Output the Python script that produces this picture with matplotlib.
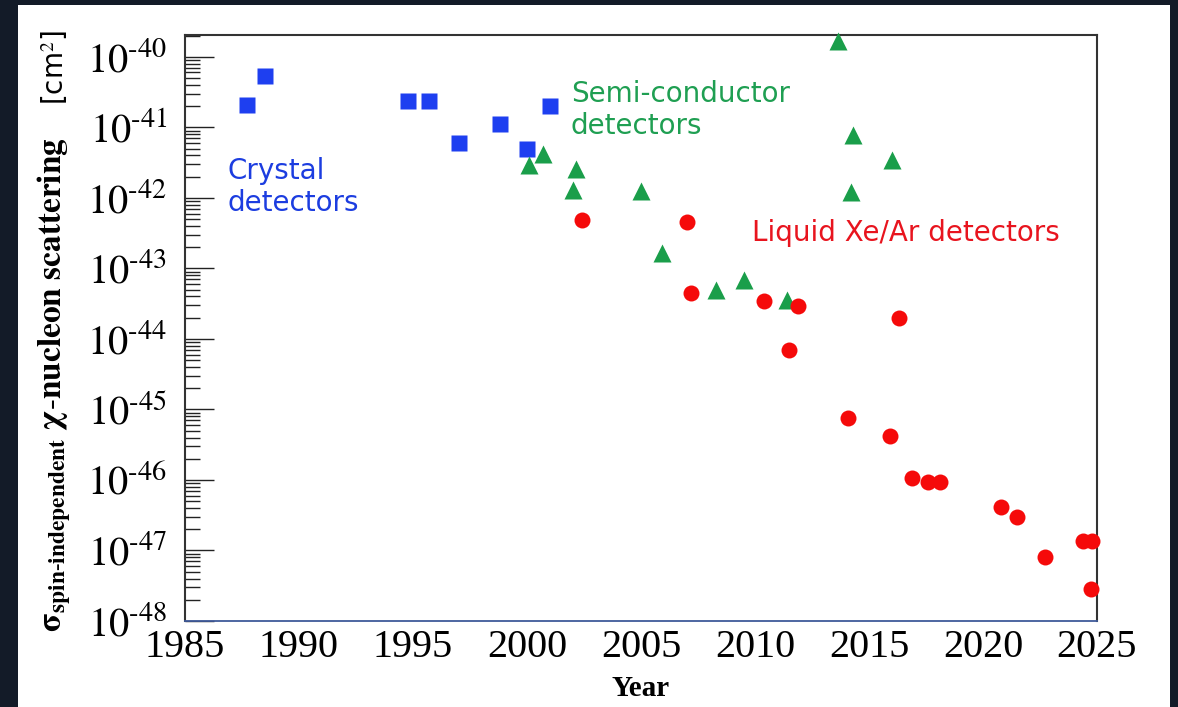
import numpy as np
import matplotlib
matplotlib.use("Agg")
import matplotlib.pyplot as plt
from matplotlib.patches import Rectangle
from matplotlib.ticker import LogLocator, FuncFormatter, NullFormatter, FixedLocator

# cross-section limits per experiment, cm^2
crystal_year = [1987.7, 1988.5, 1994.8, 1995.7, 1997.0, 1998.8, 2000.0, 2001.0]
crystal_xs = [2.1e-41, 5.4e-41, 2.4e-41, 2.4e-41, 6.0e-42, 1.1e-41, 5.0e-42, 2.0e-41]

semi_year = [2000.1, 2000.7, 2002.0, 2002.15, 2005.0, 2005.9, 2008.3, 2009.5,
             2011.4, 2013.65, 2014.3, 2014.2, 2016.0]
semi_xs = [2.9e-42, 4.2e-42, 1.3e-42, 2.6e-42, 1.26e-42, 1.66e-43, 5.0e-44, 6.9e-44,
           3.6e-44, 1.7e-40, 7.8e-42, 1.23e-42, 3.5e-42]

liquid_year = [2002.4, 2007.0, 2007.2, 2010.4, 2011.5, 2011.9, 2014.1, 2015.9,
               2016.3, 2016.9, 2017.6, 2018.1, 2020.8, 2021.5, 2022.7, 2024.4,
               2024.8, 2024.75]
liquid_xs = [4.8e-43, 4.5e-43, 4.5e-44, 3.4e-44, 6.9e-45, 2.9e-44, 7.6e-46, 4.2e-46,
             2.0e-44, 1.07e-46, 9.5e-47, 9.5e-47, 4.1e-47, 3.0e-47, 8.0e-48, 1.38e-47,
             1.35e-47, 2.8e-48]

year_ticks = [1985, 1990, 1995, 2000, 2005, 2010, 2015, 2020, 2025]

BLUE = "#1e3ff0"
GREEN = "#1a9e4a"
RED = "#f50a0a"

plt.rcParams["mathtext.fontset"] = "stix"
plt.rcParams["font.family"] = ["Liberation Serif", "DejaVu Serif"]

W, H = 1178, 707
fig = plt.figure(figsize=(W / 100, H / 100), dpi=100, facecolor="#131b28")
# white card behind the plot
fig.patches.append(Rectangle((18 / W, 0), (1170 - 18) / W, (H - 5) / H,
                             transform=fig.transFigure, facecolor="white",
                             edgecolor="none", zorder=-5))

ax = fig.add_axes([185 / W, 86 / H, 912 / W, 586 / H])
ax.set_facecolor("white")

ax.plot(crystal_year, crystal_xs, "s", color=BLUE, ms=11, mec="none", zorder=5, clip_on=False)
ax.plot(semi_year, semi_xs, "^", color=GREEN, ms=12.5, mec="none", zorder=5, clip_on=False)
ax.plot(liquid_year, liquid_xs, "o", color=RED, ms=11.5, mec="none", zorder=6, clip_on=False)

ax.set_yscale("log")
ax.set_xlim(1985, 2025)
ax.set_ylim(1e-48, 2.04e-40)


def decade_label(v, pos):
    # short hyphen in the exponent rather than a math minus
    e = int(round(np.log10(v)))
    sign = r"\text{-}" if e < 0 else ""
    return r"$10^{%s%d}$" % (sign, abs(e))


ax.yaxis.set_major_locator(LogLocator(base=10, numticks=20))
ax.yaxis.set_minor_locator(LogLocator(base=10, subs=np.arange(2, 10), numticks=20))
ax.yaxis.set_major_formatter(FuncFormatter(decade_label))
ax.yaxis.set_minor_formatter(NullFormatter())
ax.tick_params(axis="y", which="major", direction="in", length=21, width=1.0,
               color="#222222", labelsize=29, pad=13)
ax.tick_params(axis="y", which="minor", direction="in", length=11, width=1.0, color="#222222")

ax.xaxis.set_major_locator(FixedLocator(year_ticks))
ax.xaxis.set_minor_locator(FixedLocator([]))
ax.tick_params(axis="x", which="major", length=0, labelsize=29, pad=6)

for side in ["left", "top", "right"]:
    ax.spines[side].set_color("#333333")
    ax.spines[side].set_linewidth(1.5)
ax.spines["bottom"].set_color("#3f5a9a")
ax.spines["bottom"].set_linewidth(1.3)

ax.set_xlabel("Year", fontsize=21, fontweight="bold", labelpad=6)

# category labels
ax.text(0.047, 0.741, "Crystal\ndetectors", transform=ax.transAxes, ha="left", va="center",
        fontsize=20, color="#1c3de0", family="DejaVu Sans", linespacing=1.2)
ax.text(0.423, 0.872, "Semi-conductor\ndetectors", transform=ax.transAxes, ha="left",
        va="center", fontsize=20, color="#1f9f52", family="DejaVu Sans", linespacing=1.2)
ax.text(0.622, 0.662, "Liquid Xe/Ar detectors", transform=ax.transAxes, ha="left",
        va="center", fontsize=20, color="#e8141e", family="DejaVu Sans")

# y label: bold serif part plus a sans-serif unit
fig.text(54 / W, (H - 632) / H,
         r"$\mathbf{\sigma}_{\mathbf{spin\text{-}independent}}\ \mathbf{\chi\text{-}nucleon\ scattering}$",
         rotation=90, ha="center", va="bottom", fontsize=24)
fig.text(55 / W, (H - 30) / H, "[cm$^2$]", rotation=90, ha="center", va="top",
         fontsize=20, family="DejaVu Sans")

fig.savefig("out.png", dpi=100, facecolor=fig.get_facecolor())
